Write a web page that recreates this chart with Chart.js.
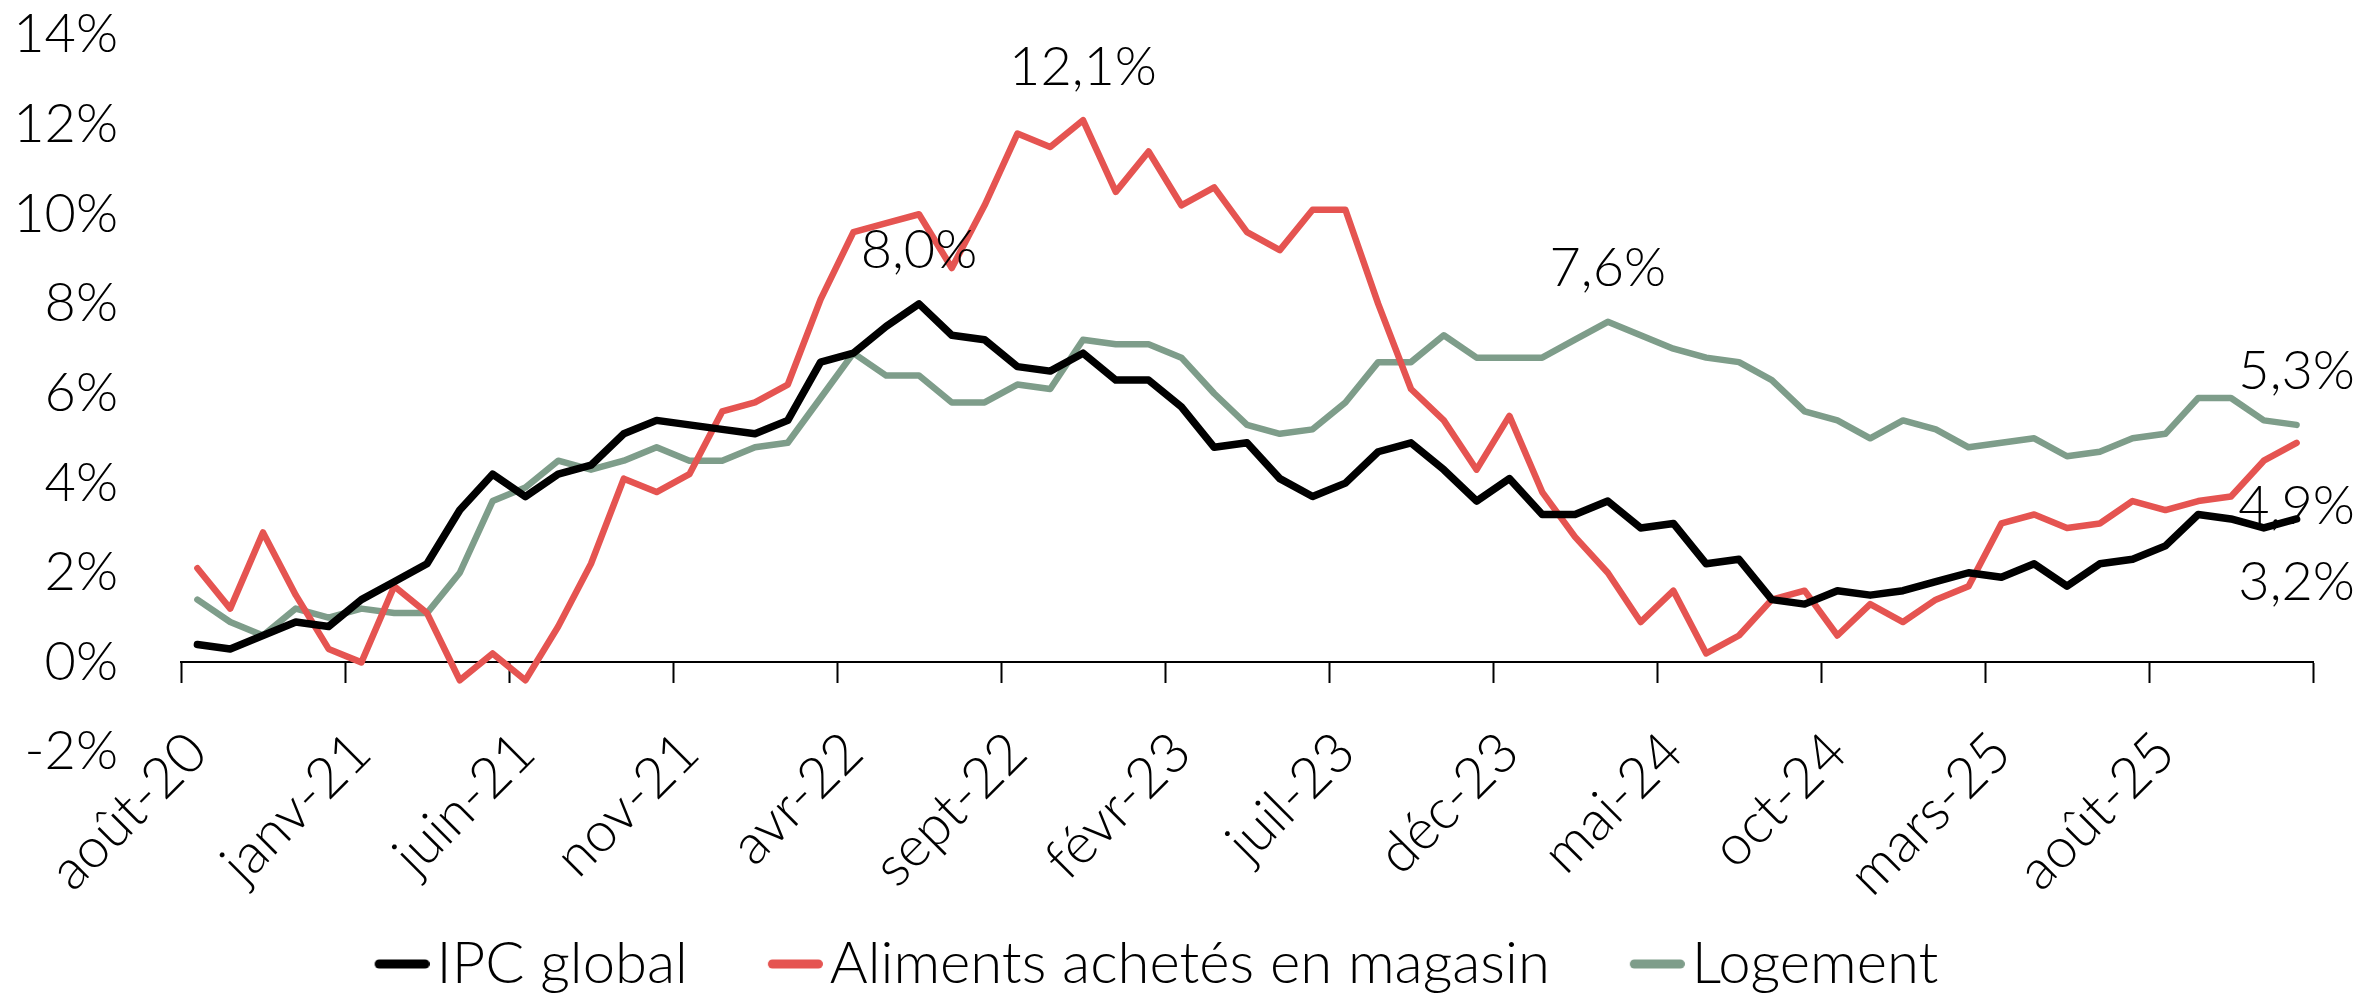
<!DOCTYPE html>
<html lang="fr">
<head>
<meta charset="utf-8">
<title>IPC global, aliments et logement</title>
<script src="https://cdn.jsdelivr.net/npm/chart.js@4.4.1/dist/chart.umd.min.js"></script>
<style>
  html, body { margin: 0; padding: 0; background: #fff; }
  #cadre { width: 2364px; height: 1003px; }
</style>
</head>
<body>
<div id="cadre"><canvas id="graphique" width="2364" height="1003"></canvas></div>
<script>
// catégories : mois d'août 2020 à décembre 2025
const nomsMois = ["janv", "févr", "mars", "avr", "mai", "juin", "juil", "août", "sept", "oct", "nov", "déc"];
const moisDepart = 7; // août
const anneeDepart = 20;
const nbMois = 65;

const mois = [];
for (let k = 0; k < nbMois; k++) {
  const m = (moisDepart + k) % 12;
  const a = anneeDepart + Math.floor((moisDepart + k) / 12);
  mois.push(nomsMois[m] + "-" + a);
}

// variations annuelles (%)
const ipcGlobal = [
  0.4, 0.3, 0.6, 0.9, 0.8, 1.4, 1.8, 2.2, 3.4, 4.2,
  3.7, 4.2, 4.4, 5.1, 5.4, 5.3, 5.2, 5.1, 5.4, 6.7,
  6.9, 7.5, 8.0, 7.3, 7.2, 6.6, 6.5, 6.9, 6.3, 6.3,
  5.7, 4.8, 4.9, 4.1, 3.7, 4.0, 4.7, 4.9, 4.3, 3.6,
  4.1, 3.3, 3.3, 3.6, 3.0, 3.1, 2.2, 2.3, 1.4, 1.3,
  1.6, 1.5, 1.6, 1.8, 2.0, 1.9, 2.2, 1.7, 2.2, 2.3,
  2.6, 3.3, 3.2, 3.0, 3.2
];
const aliments = [
  2.1, 1.2, 2.9, 1.5, 0.3, 0.0, 1.7, 1.1, -0.4, 0.2,
  -0.4, 0.8, 2.2, 4.1, 3.8, 4.2, 5.6, 5.8, 6.2, 8.1,
  9.6, 9.8, 10.0, 8.8, 10.2, 11.8, 11.5, 12.1, 10.5, 11.4,
  10.2, 10.6, 9.6, 9.2, 10.1, 10.1, 8.0, 6.1, 5.4, 4.3,
  5.5, 3.8, 2.8, 2.0, 0.9, 1.6, 0.2, 0.6, 1.4, 1.6,
  0.6, 1.3, 0.9, 1.4, 1.7, 3.1, 3.3, 3.0, 3.1, 3.6,
  3.4, 3.6, 3.7, 4.5, 4.9
];
const logement = [
  1.4, 0.9, 0.6, 1.2, 1.0, 1.2, 1.1, 1.1, 2.0, 3.6,
  3.9, 4.5, 4.3, 4.5, 4.8, 4.5, 4.5, 4.8, 4.9, 5.9,
  6.9, 6.4, 6.4, 5.8, 5.8, 6.2, 6.1, 7.2, 7.1, 7.1,
  6.8, 6.0, 5.3, 5.1, 5.2, 5.8, 6.7, 6.7, 7.3, 6.8,
  6.8, 6.8, 7.2, 7.6, 7.3, 7.0, 6.8, 6.7, 6.3, 5.6,
  5.4, 5.0, 5.4, 5.2, 4.8, 4.9, 5.0, 4.6, 4.7, 5.0,
  5.1, 5.9, 5.9, 5.4, 5.3
];

const noms = ["IPC global", "Aliments achetés en magasin", "Logement"];
const couleurs = ["#000000", "#E55451", "#7E9D8A"];
const epaisseurs = [7.5, 6.5, 6.5];

// étiquettes : sommet et dernière valeur de chaque série
const etiquettes = [
  { serie: 0, point: "max", cote: "haut" },
  { serie: 1, point: "max", cote: "haut" },
  { serie: 2, point: "max", cote: "haut" },
  { serie: 2, point: "fin", cote: "haut" },
  { serie: 1, point: "fin", cote: "bas" },
  { serie: 0, point: "fin", cote: "bas" }
];

const police = "Lato";
const taille = 54;
const tailleLegende = 58;

const fmt = v => v.toFixed(1).replace(".", ",") + "%";

const pluginEtiquettes = {
  id: "etiquettes",
  afterDatasetsDraw(chart) {
    const ctx = chart.ctx;
    ctx.save();
    ctx.font = "300 " + taille + "px " + police;
    ctx.fillStyle = "#000";
    ctx.textAlign = "center";
    ctx.textBaseline = "middle";
    etiquettes.forEach(e => {
      const valeurs = chart.data.datasets[e.serie].data;
      const i = e.point === "max" ? valeurs.indexOf(Math.max(...valeurs)) : valeurs.length - 1;
      const pt = chart.getDatasetMeta(e.serie).data[i];
      const dy = e.cote === "haut" ? -53 : 64;
      ctx.fillText(fmt(valeurs[i]), pt.x, pt.y + dy);
    });
    ctx.restore();
  }
};

// petit trait de légende, décalé pour coller au texte
const largeurBoite = 62 - tailleLegende / 2;
function traitLegende(couleur) {
  const demi = 55 - largeurBoite / 2;
  const c = document.createElement("canvas");
  c.width = demi * 2;
  c.height = 16;
  const g = c.getContext("2d");
  g.strokeStyle = couleur;
  g.lineWidth = 9;
  g.lineCap = "round";
  g.beginPath();
  g.moveTo(demi - largeurBoite / 2 + 4.5, 8);
  g.lineTo(demi * 2 - 4.5, 8);
  g.stroke();
  return c;
}

function dessiner() {
  new Chart(document.getElementById("graphique"), {
    type: "line",
    plugins: [pluginEtiquettes],
    data: {
      labels: mois,
      datasets: [ipcGlobal, aliments, logement].map((d, i) => ({
        label: noms[i],
        data: d,
        borderColor: couleurs[i],
        backgroundColor: couleurs[i],
        borderWidth: epaisseurs[i],
        pointRadius: 0,
        tension: 0,
        borderCapStyle: "round",
        borderJoinStyle: "round"
      }))
    },
    options: {
      responsive: false,
      animation: false,
      layout: { padding: { top: 35, right: 51, left: 0, bottom: 0 } },
      plugins: {
        tooltip: { enabled: false },
        legend: {
          position: "bottom",
          labels: {
            font: { family: police, size: tailleLegende, weight: "300" },
            color: "#000",
            padding: 80,
            usePointStyle: true,
            pointStyleWidth: largeurBoite,
            generateLabels: chart => chart.data.datasets.map((ds, i) => ({
              text: ds.label,
              fillStyle: ds.borderColor,
              strokeStyle: ds.borderColor,
              lineWidth: 0,
              pointStyle: traitLegende(ds.borderColor),
              hidden: false,
              datasetIndex: i,
              fontColor: "#000"
            }))
          }
        }
      },
      scales: {
        x: {
          type: "category",
          position: { y: 0 },
          offset: true,
          grid: {
            offset: true,
            drawOnChartArea: false,
            drawTicks: true,
            tickLength: 20,
            tickWidth: 2,
            tickColor: c => (c.index === undefined || c.index % 5 === 0) ? "#000" : "rgba(0,0,0,0)"
          },
          border: { display: true, color: "#000", width: 2 },
          ticks: {
            autoSkip: false,
            maxRotation: 45,
            minRotation: 45,
            padding: 37,
            color: "#000",
            font: { family: police, size: 56, weight: "300" },
            callback: (v, i) => i % 5 === 0 ? mois[i] : ""
          },
          afterFit: s => { s.paddingLeft = 0; s.paddingRight = 0; }
        },
        espace: {
          type: "linear",
          position: "bottom",
          display: true,
          grid: { display: false, drawTicks: false },
          border: { display: false },
          ticks: { display: false },
          afterFit: s => { s.height = 103; }
        },
        y: {
          min: -2,
          max: 14,
          grid: { display: false, drawTicks: false },
          border: { display: false },
          ticks: {
            stepSize: 2,
            padding: 63,
            color: "#000",
            font: { family: police, size: taille, weight: "300" },
            callback: v => v + "%"
          },
          afterFit: s => { s.width = 181; s.paddingTop = 0; s.paddingBottom = 0; }
        }
      }
    }
  });
}

Promise.all([
  document.fonts.load("300 " + taille + "px " + police),
  document.fonts.load("300 " + tailleLegende + "px " + police)
]).then(dessiner, dessiner);
</script>
</body>
</html>
